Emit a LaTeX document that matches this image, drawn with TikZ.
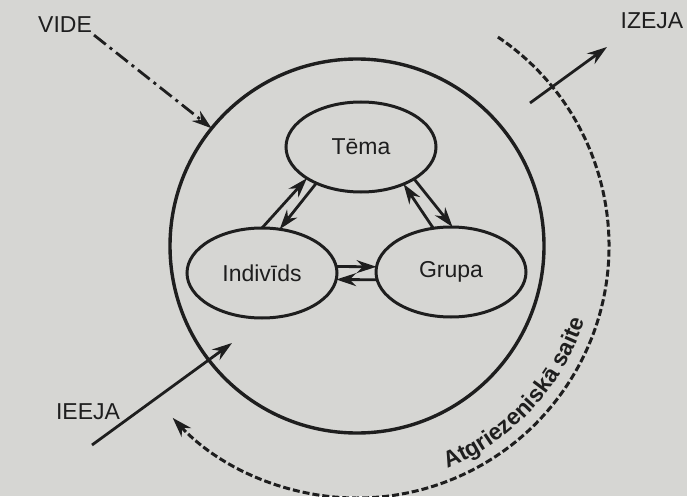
\documentclass[tikz,border=0pt]{standalone}
\usepackage{fontspec}
\setmainfont{Liberation Sans}
\usepackage{xcolor}
\usetikzlibrary{arrows.meta}
\usetikzlibrary{decorations.text, math, calc}
\usetikzlibrary{shapes.geometric}
\definecolor{paper}{RGB}{214,214,211}
\definecolor{ink}{RGB}{30,30,30}

\tikzset{
  lbl/.style={font=\fontsize{23}{26}\selectfont, text=ink, inner sep=2pt},
  part/.style={draw=ink, line width=3pt, ellipse, minimum width=150pt, minimum height=90pt, inner sep=0pt, outer sep=0pt, lbl},
  flow/.style={draw=ink, line width=2.8pt, -{Stealth[length=20pt,width=13pt]}},
}

\begin{document}
\begin{tikzpicture}[x=1pt,y=1pt]
\tikzmath{
\Rf=252;%feedback arc radius
\Rt=240;%text radius
}
\fill[paper] (0,0) rectangle (687,496);
\useasboundingbox (0,0) rectangle (687,496);

\node[draw=ink, line width=3.4pt, circle, minimum size=374pt, inner sep=0pt, outer sep=0pt] (sys) at (357,250) {};

\node[part] (tema) at (361,349) {Tēma};
\node[part] (ind) at (262,223) {Indivīds};
\node[part] (grupa) at (451,224) {Grupa};

\node[lbl] (vide) at (65,471) {VIDE};
\node[lbl] (izeja) at (652,475) {IZEJA};
\node[lbl] (ieeja) at (88,84) {IEEJA};

\coordinate (outA) at (530,393);
\coordinate (outB) at (607,449);
\coordinate (inA) at (92,51);
\coordinate (inB) at (232,153);

% links between the parts
\draw[flow] (ind.90) -- (tema.210);
\draw[flow] (tema.219) -- (ind.68);
\draw[flow] (grupa.112) -- (tema.319);
\draw[flow] (tema.329) -- (grupa.88);
\draw[flow] (ind.5) -- (grupa.176);
\draw[flow] (grupa.186) -- (ind.355);

% environment, input, output
\draw[flow, dash pattern=on 15pt off 5pt on 3pt off 5pt] (vide.south east) -- (sys.141);
\draw[flow] (inA) -- (inB);
\draw[flow] (outA) -- (outB);

% feedback
\draw[flow, line width=3pt, dash pattern=on 7pt off 3pt] ($(sys.center)+(56:\Rf)$) arc[start angle=56, end angle=-137, radius=\Rf];
\path[decorate, decoration={text along path, text align=center, text color=ink,
  text={|\fontsize{23}{26}\selectfont\bfseries|Atgriezeniskā saite}}]
  ($(sys.center)+(-74:\Rt)$) arc[start angle=-74, end angle=-12, radius=\Rt];
\end{tikzpicture}
\end{document}
